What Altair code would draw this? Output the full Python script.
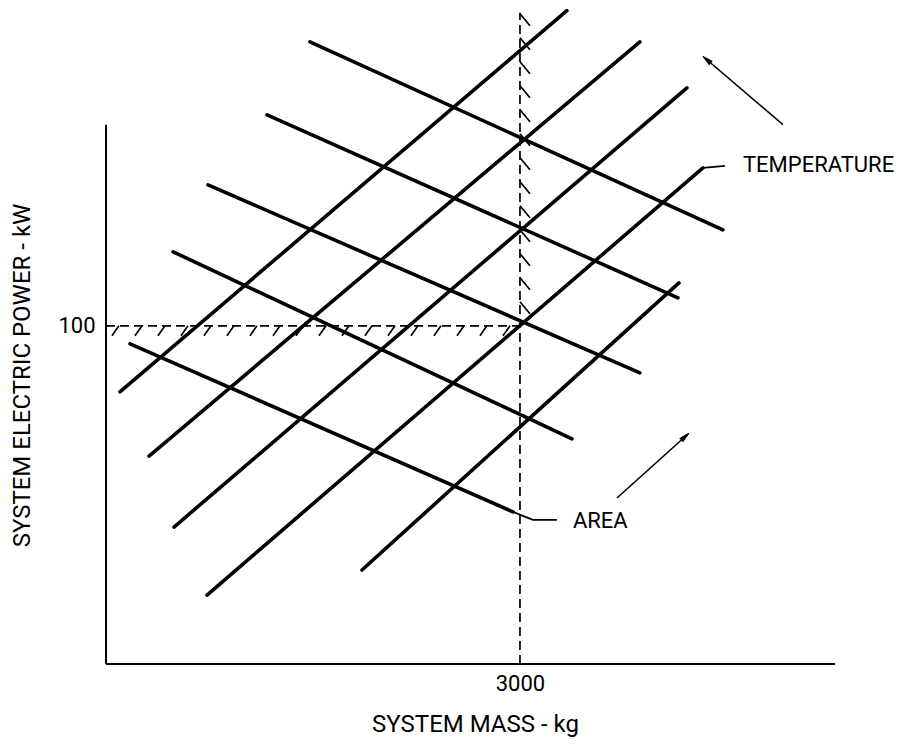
import math
import altair as alt
import numpy as np
import pandas as pd

# ---------------- data ----------------
# Temperature lines (rising to the right): start / end points (kg, kW)
temp_x0 = [101, 312, 493, 732, 1855]
temp_y0 = [80.5, 61.5, 40.5, 20.4, 27.8]
temp_x1 = [3340, 3869, 4210, 4326, 4152]
temp_y1 = [193.2, 184.0, 170.4, 146.7, 112.7]

# Area lines (falling to the right)
area_x0 = [1478, 1167, 739, 486, 174]
area_y0 = [184.0, 162.4, 141.7, 121.9, 94.7]
area_x1 = [4471, 4145, 3869, 3377, 2949]
area_y1 = [128.4, 108.3, 86.1, 66.6, 45.0]

# design point
design_mass = 3000
design_power = 100
design_line_top = 192.6

# axis extents
x_max = 5283
y_max = 194
y_axis_top = 159.5

# tick labels
x_ticks = [3000]
y_ticks = [100]

# label leaders
area_leader_x = [2949, 3094, 3268]
area_leader_y = [45.0, 42.6, 42.6]
temp_leader_x = [4326, 4485]
temp_leader_y = [146.7, 147.3]

# annotation labels
label_text = ["AREA", "TEMPERATURE"]
label_x = [3384, 4616]
label_y = [42.3, 147.6]

# direction arrows (tail -> head)
arrow_name = ["temperature", "area"]
arrow_x0 = [4906, 3703]
arrow_y0 = [159.5, 49.1]
arrow_x1 = [4355, 4196]
arrow_y1 = [178.7, 67.2]

# ---------------- layout ----------------
W, H = 729, 656
PAD = {"left": 98, "top": 0, "right": 60, "bottom": 74}
FONT = "Roboto, Liberation Sans, sans-serif"
FS = 22
TFS = 24
px_x = W / x_max
px_y = H / y_max

XS = alt.Scale(domain=[0, x_max], nice=False, zero=False)
YS = alt.Scale(domain=[0, y_max], nice=False, zero=False)

xaxis = alt.Axis(values=x_ticks, title="SYSTEM MASS - kg", domain=False, ticks=False,
                 tickSize=0, grid=False, labelPadding=9, labelFontSize=FS,
                 labelFont=FONT, labelColor="black", titleFont=FONT, titleFontSize=TFS,
                 titleFontWeight="normal", titleColor="black", titleX=369, titleY=60,
                 titleBaseline="middle", titleAlign="center", format="d")
yaxis = alt.Axis(values=y_ticks, title="SYSTEM ELECTRIC POWER - kW", domain=False, ticks=False,
                 tickSize=0, grid=False, labelPadding=11, labelFontSize=FS,
                 labelFont=FONT, labelColor="black", titleFont=FONT, titleFontSize=TFS,
                 titleFontWeight="normal", titleColor="black", titleX=-84, titleY=367,
                 titleBaseline="middle", titleAlign="center", titleAngle=270, format="d")


def X(field):
    return alt.X(field, scale=XS, axis=xaxis, title="SYSTEM MASS - kg")


def Y(field):
    return alt.Y(field, scale=YS, axis=yaxis, title="SYSTEM ELECTRIC POWER - kW")


segs = pd.DataFrame({
    "x": temp_x0 + area_x0,
    "y": temp_y0 + area_y0,
    "x2": temp_x1 + area_x1,
    "y2": temp_y1 + area_y1,
})
lines = alt.Chart(segs).mark_rule(strokeWidth=3.6, color="black", strokeCap="round").encode(
    x=X("x:Q"), y=Y("y:Q"), x2="x2:Q", y2="y2:Q")

frame = pd.DataFrame({"x": [0, 0], "y": [0, 0], "x2": [x_max, 0], "y2": [0, y_axis_top]})
axes_lines = alt.Chart(frame).mark_rule(strokeWidth=2, color="black").encode(
    x=X("x:Q"), y=Y("y:Q"), x2="x2:Q", y2="y2:Q")

design = pd.DataFrame({"x": [0, design_mass], "y": [design_power, 0],
                       "x2": [design_mass, design_mass], "y2": [design_power, design_line_top]})
design_lines = alt.Chart(design).mark_rule(strokeWidth=1.7, color="black", strokeDash=[9, 5]).encode(
    x=X("x:Q"), y=Y("y:Q"), x2="x2:Q", y2="y2:Q")

# hatch marks along the design lines (decoration)
hx = np.arange(design_mass - 10 / px_x, 10 / px_x, -23 / px_x)
hy = np.arange(design_line_top - 1 / px_y, design_power + 4 / px_y, -24 / px_y)
hatch = pd.DataFrame({
    "x": list(hx) + [design_mass] * len(hy),
    "y": [design_power] * len(hx) + list(hy),
    "x2": list(hx - 7 / px_x) + [design_mass + 10 / px_x] * len(hy),
    "y2": [design_power - 10 / px_y] * len(hx) + list(hy - 12 / px_y),
})
hatch_marks = alt.Chart(hatch).mark_rule(strokeWidth=1.7, color="black").encode(
    x=X("x:Q"), y=Y("y:Q"), x2="x2:Q", y2="y2:Q")

leaders = pd.DataFrame({
    "x": area_leader_x + temp_leader_x,
    "y": area_leader_y + temp_leader_y,
    "g": ["a"] * len(area_leader_x) + ["t"] * len(temp_leader_x),
    "o": list(range(len(area_leader_x))) + list(range(len(temp_leader_x))),
})
leader_lines = alt.Chart(leaders).mark_line(strokeWidth=1.8, color="black").encode(
    x=X("x:Q"), y=Y("y:Q"), detail="g:N", order="o:Q")

labels = pd.DataFrame({"t": label_text, "x": label_x, "y": label_y})
label_marks = alt.Chart(labels).mark_text(font=FONT, fontSize=FS, align="left",
                                          baseline="middle", color="black").encode(
    x=X("x:Q"), y=Y("y:Q"), text="t:N")

arrows = pd.DataFrame({"name": arrow_name, "x": arrow_x0, "y": arrow_y0,
                       "x2": arrow_x1, "y2": arrow_y1})
arrows["angle"] = [
    math.degrees(math.atan2((b - a) * px_x, (d - c) * px_y)) % 360
    for a, b, c, d in zip(arrow_x0, arrow_x1, arrow_y0, arrow_y1)
]
shafts = alt.Chart(arrows).mark_rule(strokeWidth=1.6, color="black").encode(
    x=X("x:Q"), y=Y("y:Q"), x2="x2:Q", y2="y2:Q")

heads_df = pd.DataFrame({"hx": arrow_x1, "hy": arrow_y1, "angle": arrows["angle"]})
heads = alt.Chart(heads_df).mark_point(
    shape="M0,-1L0.42,0.9L-0.42,0.9Z", filled=True, fill="black", stroke="black",
    strokeWidth=1, size=110, opacity=1).encode(
    x=X("hx:Q"), y=Y("hy:Q"), angle=alt.Angle("angle:Q", scale=None))

chart = alt.layer(lines, axes_lines, design_lines, hatch_marks, leader_lines,
                  label_marks, shafts, heads).properties(
    width=W, height=H, autosize=alt.AutoSizeParams(type="none"), padding=PAD,
    background="white",
).configure_view(stroke=None)

chart.save("out.html", embed_options={"renderer": "svg", "actions": False})
